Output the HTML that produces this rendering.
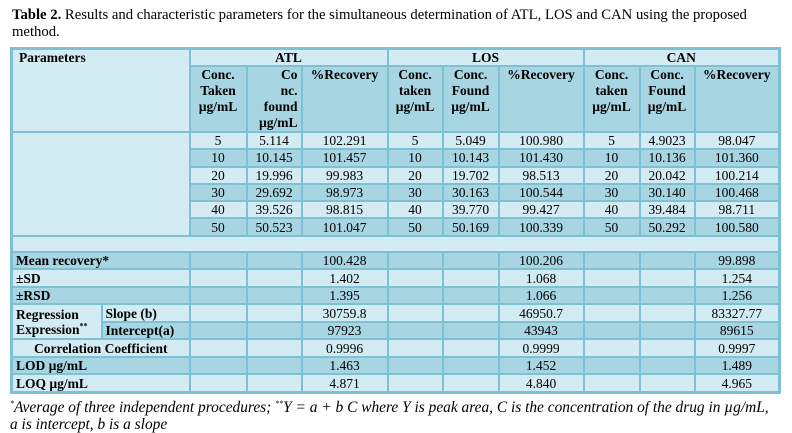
<!DOCTYPE html>
<html><head><meta charset="utf-8"><style>
body{margin:0;background:#fff;width:792px;height:432px;overflow:hidden;font-family:"Liberation Serif",serif;color:#000}
.t{position:absolute;left:12px;top:7px;font-size:14.7px;line-height:17px;width:775px}
table{position:absolute;left:10px;top:47px;border-collapse:collapse;table-layout:fixed;width:768px;border:3px solid #7fc1d4;font-size:13.5px}
td{border:2px solid #7fc1d4;padding:0 3px;text-align:center;line-height:15px;vertical-align:middle;background:#d3ebf2;overflow:hidden;white-space:nowrap}
.d td,td.d{background:#a8d5e2}
td.l{background:#d3ebf2}
.b{font-weight:bold}
.L{text-align:left}
.h td{vertical-align:top;font-weight:bold;line-height:16px}
tr.r td{height:15.3px}
tr.s td{height:15.5px}
.f{position:absolute;left:10px;top:395px;font-size:15.4px;line-height:17px;font-style:italic;width:782px;white-space:nowrap}
</style></head><body>
<div class="t"><b>Table 2.</b> Results and characteristic parameters for the simultaneous determination of ATL, LOS and CAN using the proposed method.</div>
<table>
<colgroup><col style="width:90px"><col style="width:88px"><col style="width:57px"><col style="width:55px"><col style="width:86px"><col style="width:55px"><col style="width:56px"><col style="width:85px"><col style="width:56px"><col style="width:55px"><col style="width:85px"></colgroup>
<tr><td colspan="2" rowspan="2" class="b L" style="vertical-align:top;height:15px;padding-left:6px">Parameters</td><td colspan="3" class="b" style="height:15px">ATL</td><td colspan="3" class="b">LOS</td><td colspan="3" class="b">CAN</td></tr>
<tr class="h d"><td style="height:63px">Conc.<br>Taken<br>µg/mL</td><td style="text-align:right">Co<br>nc.<br>found<br>µg/mL</td><td>%Recovery</td><td>Conc.<br>taken<br>µg/mL</td><td>Conc.<br>Found<br>µg/mL</td><td>%Recovery</td><td>Conc.<br>taken<br>µg/mL</td><td>Conc.<br>Found<br>µg/mL</td><td>%Recovery</td></tr>
<tr class="r"><td colspan="2" rowspan="6" class="l"></td><td>5</td><td>5.114</td><td>102.291</td><td>5</td><td>5.049</td><td>100.980</td><td>5</td><td>4.9023</td><td>98.047</td></tr>
<tr class="r d"><td>10</td><td>10.145</td><td>101.457</td><td>10</td><td>10.143</td><td>101.430</td><td>10</td><td>10.136</td><td>101.360</td></tr>
<tr class="r"><td>20</td><td>19.996</td><td>99.983</td><td>20</td><td>19.702</td><td>98.513</td><td>20</td><td>20.042</td><td>100.214</td></tr>
<tr class="r d"><td>30</td><td>29.692</td><td>98.973</td><td>30</td><td>30.163</td><td>100.544</td><td>30</td><td>30.140</td><td>100.468</td></tr>
<tr class="r"><td>40</td><td>39.526</td><td>98.815</td><td>40</td><td>39.770</td><td>99.427</td><td>40</td><td>39.484</td><td>98.711</td></tr>
<tr class="r d"><td>50</td><td>50.523</td><td>101.047</td><td>50</td><td>50.169</td><td>100.339</td><td>50</td><td>50.292</td><td>100.580</td></tr>
<tr><td colspan="11" style="height:14px"></td></tr>
<tr class="s d"><td colspan="2" class="b L">Mean recovery*</td><td></td><td></td><td>100.428</td><td></td><td></td><td>100.206</td><td></td><td></td><td>99.898</td></tr>
<tr class="s"><td colspan="2" class="b L">±SD</td><td></td><td></td><td>1.402</td><td></td><td></td><td>1.068</td><td></td><td></td><td>1.254</td></tr>
<tr class="s d"><td colspan="2" class="b L">±RSD</td><td></td><td></td><td>1.395</td><td></td><td></td><td>1.066</td><td></td><td></td><td>1.256</td></tr>
<tr class="s"><td rowspan="2" class="b L l">Regression<br>Expression<sup style="font-size:8px;line-height:0">**</sup></td><td class="b L">Slope (b)</td><td></td><td></td><td>30759.8</td><td></td><td></td><td>46950.7</td><td></td><td></td><td>83327.77</td></tr>
<tr class="s d"><td class="b L">Intercept(a)</td><td></td><td></td><td>97923</td><td></td><td></td><td>43943</td><td></td><td></td><td>89615</td></tr>
<tr class="s"><td colspan="2" class="b">Correlation Coefficient</td><td></td><td></td><td>0.9996</td><td></td><td></td><td>0.9999</td><td></td><td></td><td>0.9997</td></tr>
<tr class="s d"><td colspan="2" class="b L">LOD µg/mL</td><td></td><td></td><td>1.463</td><td></td><td></td><td>1.452</td><td></td><td></td><td>1.489</td></tr>
<tr class="s"><td colspan="2" class="b L">LOQ µg/mL</td><td></td><td></td><td>4.871</td><td></td><td></td><td>4.840</td><td></td><td></td><td>4.965</td></tr>
</table>
<div class="f"><sup style="font-size:8px">*</sup>Average of three independent procedures; <sup style="font-size:8px">**</sup>Y = a + b C where Y is peak area, C is the concentration of the drug in µg/mL,<br>a is intercept, b is a slope</div>
</body></html>
